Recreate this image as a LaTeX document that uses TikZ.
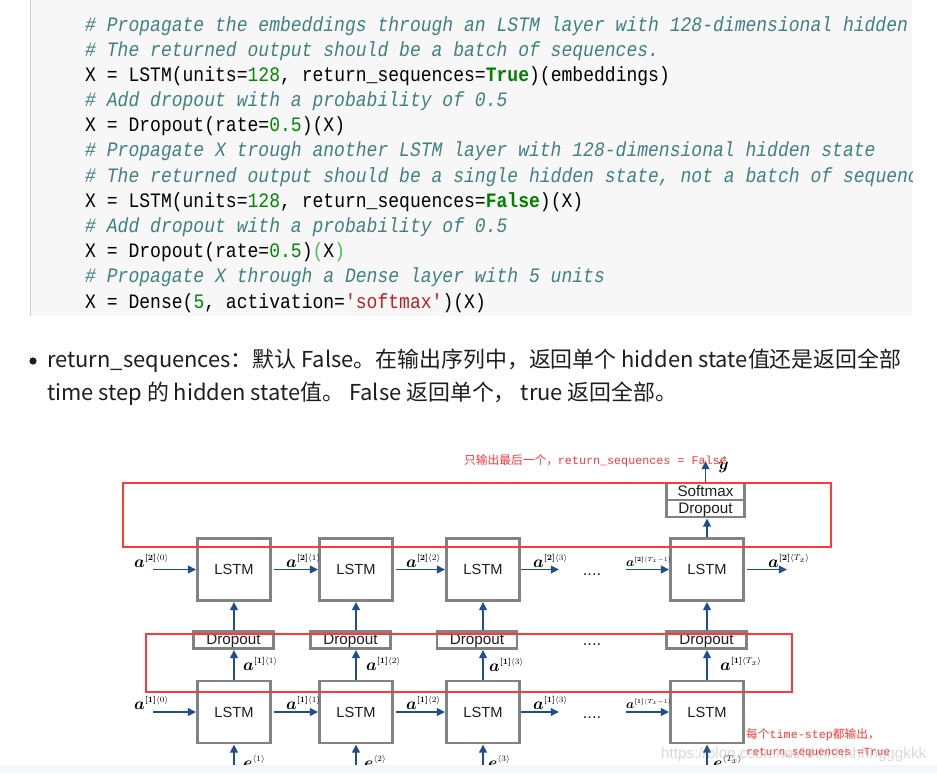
\documentclass[tikz,border=0pt]{standalone}
\usepackage{fontspec}
\usepackage{amsmath,amssymb,bm}
\usepackage{xcolor}
\usepackage{tikz}
\usetikzlibrary{arrows.meta, positioning}

\newfontfamily\codefont[FakeStretch=0.88]{Liberation Mono}
\newfontfamily\notefont{Liberation Mono}
\newfontfamily\cjk{Noto Sans CJK SC}
\newfontfamily\boxfont{Liberation Sans}

\definecolor{codebg}{RGB}{247,247,247}
\definecolor{codeborder}{RGB}{205,205,205}
\definecolor{cmtcolor}{RGB}{64,128,128}
\definecolor{numcolor}{RGB}{0,136,0}
\definecolor{kwcolor}{RGB}{0,128,0}
\definecolor{strcolor}{RGB}{186,33,33}
\definecolor{matchgreen}{RGB}{80,190,80}
\definecolor{textdark}{RGB}{30,30,30}
\definecolor{arrowblue}{RGB}{31,78,140}
\definecolor{boxgray}{RGB}{128,130,134}
\definecolor{markred}{RGB}{255,56,56}
\definecolor{bandgray}{RGB}{243,246,250}

\newcommand{\actlab}[2]{$\bm{a}^{\scriptscriptstyle\bm{[#1]}\langle #2\rangle}$}
\newcommand{\emblab}[1]{$\bm{e}^{\scriptscriptstyle\langle #1\rangle}$}

\begin{document}
\begin{tikzpicture}[x=0.03cm, y=-0.03cm,
    codetext/.style={anchor=base west, inner sep=0pt, font=\codefont\frenchspacing\fontsize{17.5}{20}\selectfont},
    cmt/.style={codetext, text=cmtcolor, font=\codefont\frenchspacing\itshape\fontsize{17.5}{20}\selectfont},
    bullettext/.style={anchor=base west, inner sep=0pt, text=textdark, font=\cjk\fontsize{18.7}{22}\selectfont},
    lstm/.style={draw=boxgray, line width=2.4pt, fill=white, minimum width=2.19cm, minimum height=1.86cm, inner sep=0pt, text=textdark, font=\boxfont\fontsize{12.5}{14}\selectfont},
    drop/.style={draw=boxgray, line width=2.4pt, fill=white, minimum width=2.4cm, minimum height=0.51cm, inner sep=0pt, text height=9.5pt, text depth=1.5pt, text=textdark, font=\boxfont\fontsize{13}{14}\selectfont},
    arrow/.style={-{Triangle[length=7pt, width=6.5pt]}, draw=arrowblue, line width=1.6pt},
    redbox/.style={draw=markred, line width=1.8pt},
    redtext/.style={anchor=base west, inner sep=0pt, text=markred, font=\cjk\fontsize{10}{12}\selectfont},
    mlab/.style={anchor=base west, inner sep=0pt, font=\fontsize{15}{18}\selectfont},
    smallmlab/.style={mlab, font=\fontsize{11}{13}\selectfont},
    dots/.style={anchor=base, inner sep=0pt, text=textdark, font=\boxfont\fontsize{14}{16}\selectfont}
]
\useasboundingbox (0,0) rectangle (937,773);
\fill[white] (0,0) rectangle (937,773);

% Code cell
\fill[codebg] (30,0) rectangle (912,316);
\draw[codeborder, line width=1.2pt] (30.5,0) -- (30.5,316);
\begin{scope}
\clip (30,0) rectangle (912,316);
\node[cmt] (c1) at (85,31) {\# Propagate the embeddings through an LSTM layer with 128-dimensional hidden};
\node[cmt] (c2) at (85,56.2) {\# The returned output should be a batch of sequences.};
\node[codetext] (c3) at (85,81.4) {X = LSTM(units=\textcolor{numcolor}{128}, return\_sequences=\textcolor{kwcolor}{\bfseries True})(embeddings)};
\node[cmt] (c4) at (85,106.5) {\# Add dropout with a probability of 0.5};
\node[codetext] (c5) at (85,131.7) {X = Dropout(rate=\textcolor{numcolor}{0.5})(X)};
\node[cmt] (c6) at (85,156.9) {\# Propagate X trough another LSTM layer with 128-dimensional hidden state};
\node[cmt] (c7) at (85,182.1) {\# The returned output should be a single hidden state, not a batch of sequenc};
\node[codetext] (c8) at (85,207.3) {X = LSTM(units=\textcolor{numcolor}{128}, return\_sequences=\textcolor{kwcolor}{\bfseries False})(X)};
\node[cmt] (c9) at (85,232.4) {\# Add dropout with a probability of 0.5};
\node[codetext] (c10) at (85,257.6) {X = Dropout(rate=\textcolor{numcolor}{0.5})\textcolor{matchgreen}{(}X\textcolor{matchgreen}{)}};
\node[cmt] (c11) at (85,282.8) {\# Propagate X through a Dense layer with 5 units};
\node[codetext] (c12) at (85,308) {X = Dense(\textcolor{numcolor}{5}, activation=\textcolor{strcolor}{'softmax'})(X)};
\end{scope}

% Bullet paragraph
\fill[textdark] (33,361) circle (3.6);
\node[bullettext] (b1) at (47,367) {return\_sequences：默认 False。在输出序列中，返回单个 hidden state值还是返回全部};
\node[bullettext] (b2) at (47,400) {time step 的 hidden state值。 False 返回单个， true 返回全部。};

% Boxes
\node[lstm] (lstmTop1) at (234,569.5) {LSTM};
\node[lstm] (lstmTop2) at (356,569.5) {LSTM};
\node[lstm] (lstmTop3) at (483,569.5) {LSTM};
\node[lstm] (lstmTop4) at (707,569.5) {LSTM};
\node[lstm] (lstmBot1) at (234,712) {LSTM};
\node[lstm] (lstmBot2) at (356,712) {LSTM};
\node[lstm] (lstmBot3) at (483,712) {LSTM};
\node[lstm] (lstmBot4) at (707,712) {LSTM};
\node[drop] (dropMid1) at (233.5,640) {Dropout};
\node[drop] (dropMid2) at (350.5,640) {Dropout};
\node[drop] (dropMid3) at (477,640) {Dropout};
\node[drop] (dropMid4) at (706.5,640) {Dropout};
\node[drop, minimum width=2.34cm] (softmax) at (705.5,491.5) {Softmax};
\node[drop, minimum width=2.34cm] (dropTop) at (705.5,508.5) {Dropout};
\node[dots] (dotsTop) at (592,575) {....};
\node[dots] (dotsMid) at (592,645) {....};
\node[dots] (dotsBot) at (592,718) {....};

% Connections, layer 2
\coordinate (a20) at (153,569.5);
\coordinate (a23) at (559,569.5);
\coordinate (a2Tm) at (626,569.5);
\coordinate (a2T) at (787,569.5);
\draw[arrow] (a20) -- (lstmTop1.west);
\draw[arrow, shorten <=2pt] (lstmTop1.east) -- (lstmTop2.west);
\draw[arrow, shorten <=2pt] (lstmTop2.east) -- (lstmTop3.west);
\draw[arrow] (lstmTop3.east) -- (a23);
\draw[arrow] (a2Tm) -- (lstmTop4.west);
\draw[arrow, shorten <=2pt] (lstmTop4.east) -- (a2T);

% Connections, layer 1
\coordinate (a10) at (153,712);
\coordinate (a13) at (559,712);
\coordinate (a1Tm) at (626,712);
\draw[arrow] (a10) -- (lstmBot1.west);
\draw[arrow, shorten <=2pt] (lstmBot1.east) -- (lstmBot2.west);
\draw[arrow, shorten <=2pt] (lstmBot2.east) -- (lstmBot3.west);
\draw[arrow] (lstmBot3.east) -- (a13);
\draw[arrow] (a1Tm) -- (lstmBot4.west);

% Vertical connections
\draw[arrow] (lstmBot1.north) -- (lstmBot1.north |- dropMid1.south);
\draw[arrow] (lstmBot2.north) -- (lstmBot2.north |- dropMid2.south);
\draw[arrow] (lstmBot3.north) -- (lstmBot3.north |- dropMid3.south);
\draw[arrow] (lstmBot4.north) -- (lstmBot4.north |- dropMid4.south);
\draw[arrow] (lstmTop1.south |- dropMid1.north) -- (lstmTop1.south);
\draw[arrow] (lstmTop2.south |- dropMid2.north) -- (lstmTop2.south);
\draw[arrow] (lstmTop3.south |- dropMid3.north) -- (lstmTop3.south);
\draw[arrow] (lstmTop4.south |- dropMid4.north) -- (lstmTop4.south);
\draw[arrow] (lstmTop4.north) -- (lstmTop4.north |- dropTop.south);
\coordinate (yhat) at (705.5,461);
\draw[arrow] (softmax.north) -- (yhat);
\coordinate (e1) at (234,773);
\coordinate (e2) at (356,773);
\coordinate (e3) at (483,773);
\coordinate (eT) at (707,773);
\draw[arrow] (e1) -- (lstmBot1.south);
\draw[arrow] (e2) -- (lstmBot2.south);
\draw[arrow] (e3) -- (lstmBot3.south);
\draw[arrow] (eT) -- (lstmBot4.south);

% Labels
\node[mlab] (la20) at (134,567) {\actlab{2}{0}};
\node[mlab] (la21) at (286,567) {\actlab{2}{1}};
\node[mlab] (la22) at (406,567) {\actlab{2}{2}};
\node[mlab] (la23) at (533,567) {\actlab{2}{3}};
\node[smallmlab] (la2Tm) at (626,566) {\actlab{2}{T_x-1}};
\node[mlab] (la2T) at (768,567) {\actlab{2}{T_x}};
\node[mlab] (la10) at (134,709) {\actlab{1}{0}};
\node[mlab] (la11) at (286,709) {\actlab{1}{1}};
\node[mlab] (la12) at (406,709) {\actlab{1}{2}};
\node[mlab] (la13) at (533,709) {\actlab{1}{3}};
\node[smallmlab] (la1Tm) at (626,708) {\actlab{1}{T_x-1}};
\node[mlab] (lu1) at (243,670) {\actlab{1}{1}};
\node[mlab] (lu2) at (366,670) {\actlab{1}{2}};
\node[mlab] (lu3) at (489,671) {\actlab{1}{3}};
\node[mlab] (luT) at (720,670) {\actlab{1}{T_x}};
\node[mlab] (le1) at (243,768) {\emblab{1}};
\node[mlab] (le2) at (364,768) {\emblab{2}};
\node[mlab] (le3) at (488,768) {\emblab{3}};
\node[mlab] (leT) at (713,768) {\emblab{T_x}};
\node[mlab] (lyhat) at (718,469) {$\hat{\bm{y}}$};

% Red marks
\draw[redbox] (123,483) rectangle (831,547);
\draw[redbox] (146,634) rectangle (792,692);
\node[anchor=base west, inner sep=0pt, text=gray, text opacity=0.3, font=\boxfont\fontsize{13}{15}\selectfont] (wm) at (661,758) {https://blog.csdn.net/hhhhhhhhhgggkkk};
\node[redtext] (noteTop) at (464,464) {只输出最后一个，{\notefont return\_sequences = False}};
\node[redtext] (noteBot1) at (746,738) {每个{\notefont time-step}都输出，};
\node[redtext] (noteBot2) at (746,755) {{\notefont\fontsize{9.3}{11}\selectfont return\_sequences =True}};

\fill[bandgray] (0,765) rectangle (937,773);
\end{tikzpicture}
\end{document}
